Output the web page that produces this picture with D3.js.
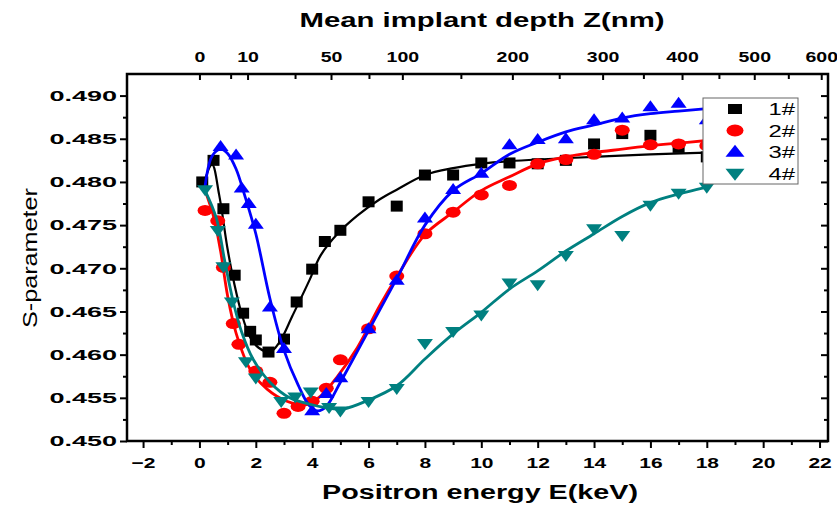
<!DOCTYPE html>
<html>
<head>
<meta charset="utf-8">
<script src="https://cdn.jsdelivr.net/npm/d3@7"></script>
<style>
  body { margin: 0; background: #fff; }
  svg { display: block; font-family: "Liberation Sans", Arial, sans-serif; }
</style>
</head>
<body>
<svg id="chart" width="837" height="505"></svg>
<script>
// tick values
const energyTicks = [-2, 0, 2, 4, 6, 8, 10, 12, 14, 16, 18, 20, 22];
const energyMinor = [-1, 1, 3, 5, 7, 9, 11, 13, 15, 17, 19, 21];
const sTicks = [0.450, 0.455, 0.460, 0.465, 0.470, 0.475, 0.480, 0.485, 0.490];
const sMinor = [0.4525, 0.4575, 0.4625, 0.4675, 0.4725, 0.4775, 0.4825, 0.4875];
const depthTicks = [0, 10, 50, 100, 200, 300, 400, 500, 600];
const depthMinor = [5, 30, 75, 150, 250, 350, 450, 550];

// measured points [E keV, S]
const pts1 = [[0.1,0.4800],[0.5,0.4825],[0.85,0.4769],[1.25,0.4692],[1.55,0.4648],[1.8,0.4627],
  [2.0,0.4617],[2.45,0.4603],[3.0,0.4618],[3.45,0.4661],[4.0,0.4699],[4.45,0.4731],[5.0,0.4744],
  [6,0.4777],[7,0.4772],[8,0.4808],[9,0.4808],[10,0.4822],[11,0.4822],[12,0.4821],[13,0.4825],
  [14,0.4844],[15,0.4856],[16,0.4854],[17,0.4840],[18,0.4829]];
const pts2 = [[0.2,0.4767],[0.65,0.4755],[0.85,0.4701],[1.2,0.4636],[1.4,0.4612],[2.0,0.4581],
  [2.5,0.4568],[3.0,0.4532],[3.5,0.4540],[4.0,0.4546],[4.5,0.4561],[5.0,0.4594],[6,0.4630],
  [7,0.4691],[8,0.4740],[9,0.4765],[10,0.4785],[11,0.4796],[12,0.4821],[13,0.4826],[14,0.4832],
  [15,0.4860],[16,0.4843],[17,0.4844],[18,0.4842]];
const pts3 = [[0.75,0.4841],[1.3,0.4831],[1.5,0.4793],[1.75,0.4775],[2.0,0.4751],[2.5,0.4655],
  [3.0,0.4607],[4.0,0.4535],[4.5,0.4555],[5.0,0.4573],[6,0.4630],[7,0.4686],[8,0.4758],
  [9,0.4791],[10,0.4810],[11,0.4843],[12,0.4849],[13,0.4850],[14,0.4872],[15,0.4874],
  [16,0.4887],[17,0.4891],[18,0.4872]];
const pts4 = [[0.2,0.4791],[0.65,0.4744],[0.85,0.4702],[1.15,0.4661],[1.65,0.4592],[2.0,0.4573],
  [2.9,0.4546],[3.4,0.4551],[3.95,0.4557],[4.6,0.4539],[5.0,0.4535],[6,0.4546],[7,0.4561],
  [8,0.4613],[9,0.4627],[10,0.4646],[11,0.4683],[12,0.4681],[13,0.4715],[14,0.4746],
  [15,0.4738],[16,0.4773],[17,0.4787],[18,0.4794]];

// fitted curves
const fit1 = [[0.15,0.4798],[0.45,0.4820],[0.7,0.4785],[1.0,0.4722],[1.25,0.4680],[1.5,0.4647],
  [1.8,0.4620],[2.1,0.4608],[2.5,0.4603],[2.85,0.4615],[3.3,0.4645],[3.9,0.4686],[4.3,0.4715],
  [4.9,0.4740],[5.6,0.4761],[6.4,0.4780],[7,0.4791],[8,0.4808],[9,0.4816],[10,0.4821],
  [11,0.4824],[12,0.4826],[14,0.4829],[16,0.4832],[18,0.4834]];
const fit2 = [[0.2,0.4790],[0.5,0.4760],[0.75,0.4720],[1.0,0.4668],[1.3,0.4625],[1.8,0.4583],
  [2.4,0.4560],[3.1,0.4546],[3.8,0.4542],[4.3,0.4552],[4.9,0.4575],[5.6,0.4608],[6.4,0.4657],
  [7,0.4690],[8,0.4739],[9,0.4765],[10,0.4790],[11,0.4806],[12,0.4821],[13,0.4829],[14,0.4834],
  [15,0.4838],[16,0.4842],[17,0.4845],[18,0.4848]];
const fit3 = [[0.2,0.4795],[0.45,0.4830],[0.75,0.4838],[1.0,0.4833],[1.3,0.4815],[1.6,0.4785],
  [2.0,0.4740],[2.5,0.4665],[3.0,0.4605],[3.5,0.4565],[3.9,0.4541],[4.2,0.4535],[4.5,0.4540],
  [5,0.4568],[6,0.4628],[7,0.4688],[8,0.4750],[9,0.4790],[10,0.4810],[11,0.4832],[12,0.4846],
  [13,0.4858],[14,0.4866],[15,0.4874],[16,0.4879],[17,0.4882],[18,0.4885]];
const fit4 = [[0.2,0.4790],[0.6,0.4758],[0.9,0.4708],[1.2,0.4661],[1.5,0.4626],[1.9,0.4595],
  [2.5,0.4568],[3.2,0.4550],[4.0,0.4542],[4.6,0.4538],[5.1,0.4537],[5.9,0.4546],[7,0.4564],
  [8,0.4595],[9,0.4624],[10,0.4649],[11,0.4676],[12,0.4697],[13,0.4720],[14,0.4740],
  [15,0.4760],[16,0.4776],[17,0.4786],[18,0.4794]];

const names = ["1#", "2#", "3#", "4#"];
const colors = ["#000000", "#ff0000", "#0000ff", "#008080"];
const shapes = ["square", "circle", "up", "down"];

const svg = d3.select("#chart");
const L = 127, R = 828, T = 74, B = 441;

var x = d3.scaleLinear().domain([-2.57, 22.3]).range([L, R]);
var y = d3.scaleLinear().domain([0.450, 0.4925]).range([B, T]);
// depth Z = 4.25 * E^1.6  ->  E proportional to Z^0.625
var z = d3.scalePow().exponent(0.625).domain([0, 4.25 * Math.pow(22.3, 1.6)]).range([x(0), R]);

function stretch(sel, k) {
  sel.each(function() {
    const w = this.getComputedTextLength();
    this.setAttribute("textLength", w * k);
    this.setAttribute("lengthAdjust", "spacingAndGlyphs");
  });
}

function styleAxis(g) {
  g.select(".domain").remove();
  g.selectAll("line").attr("stroke", "#000").attr("stroke-width", 2);
  g.selectAll("text").attr("fill", "#000").attr("font-weight", "bold").attr("font-size", 15)
    .attr("font-family", null);
}

// bottom
svg.append("g").attr("transform", `translate(0,${B})`)
  .call(d3.axisBottom(x).tickValues(energyTicks).tickSize(7).tickPadding(9).tickFormat(d3.format("d")))
  .call(styleAxis).call(g => stretch(g.selectAll("text"), 1.4));
svg.append("g").attr("transform", `translate(0,${B})`)
  .call(d3.axisBottom(x).tickValues(energyMinor).tickSize(4).tickFormat(""))
  .call(styleAxis);

// left
svg.append("g").attr("transform", `translate(${L},0)`)
  .call(d3.axisLeft(y).tickValues(sTicks).tickSize(7).tickPadding(3).tickFormat(d3.format(".3f")))
  .call(styleAxis).call(g => stretch(g.selectAll("text"), 1.8));
svg.append("g").attr("transform", `translate(${L},0)`)
  .call(d3.axisLeft(y).tickValues(sMinor).tickSize(4).tickFormat(""))
  .call(styleAxis);

// right (inward)
svg.append("g").attr("transform", `translate(${R},0)`)
  .call(d3.axisRight(y).tickValues(sTicks).tickSize(-7).tickFormat(""))
  .call(styleAxis);
svg.append("g").attr("transform", `translate(${R},0)`)
  .call(d3.axisRight(y).tickValues(sMinor).tickSize(-4).tickFormat(""))
  .call(styleAxis);

// top depth axis (inward ticks)
svg.append("g").attr("transform", `translate(0,${T})`)
  .call(d3.axisTop(z).tickValues(depthTicks).tickSize(-6).tickPadding(12).tickFormat(d3.format("d")))
  .call(styleAxis).call(g => stretch(g.selectAll("text"), 1.3));
svg.append("g").attr("transform", `translate(0,${T})`)
  .call(d3.axisTop(z).tickValues(depthMinor).tickSize(-5).tickFormat(""))
  .call(styleAxis);

// curves and symbols
const line = d3.line().x(d => x(d[0])).y(d => y(d[1])).curve(d3.curveCatmullRom.alpha(0.5));
const fits = [fit1, fit2, fit3, fit4];
const pts = [pts1, pts2, pts3, pts4];

function symbolPath(shape, w, h) {
  if (shape === "up") return `M0,${-h * 0.6}L${w / 2},${h * 0.4}L${-w / 2},${h * 0.4}Z`;
  if (shape === "down") return `M0,${h * 0.6}L${w / 2},${-h * 0.4}L${-w / 2},${-h * 0.4}Z`;
  return `M${-w / 2},${-h / 2}h${w}v${h}h${-w}Z`;
}

function drawSymbols(g, data, i, big) {
  const shape = shapes[i];
  if (shape === "circle") {
    g.selectAll("ellipse").data(data).join("ellipse")
      .attr("cx", d => d[0]).attr("cy", d => d[1])
      .attr("rx", big ? 8.5 : 7.5).attr("ry", big ? 6 : 5.5)
      .attr("fill", colors[i]);
  } else {
    const w = shape === "square" ? (big ? 14 : 12) : (big ? 19 : 16);
    const h = shape === "square" ? (big ? 10 : 11) : (big ? 12 : 11);
    g.selectAll("path").data(data).join("path")
      .attr("transform", d => `translate(${d[0]},${d[1]})`)
      .attr("d", symbolPath(shape, w, h))
      .attr("fill", colors[i]);
  }
}

fits.forEach((f, i) => {
  svg.append("path").datum(f)
    .attr("d", line)
    .attr("fill", "none")
    .attr("stroke", colors[i])
    .attr("stroke-width", i === 0 ? 2.2 : 2.8);
  const g = svg.append("g");
  drawSymbols(g, pts[i].map(d => [x(d[0]), y(d[1])]), i, false);
});

// frame
svg.append("rect").attr("x", L).attr("y", T).attr("width", R - L).attr("height", B - T)
  .attr("fill", "none").attr("stroke", "#000").attr("stroke-width", 2.5);

// legend
const leg = svg.append("g");
leg.append("rect").attr("x", 703).attr("y", 98).attr("width", 95).attr("height", 86)
  .attr("fill", "#fff").attr("stroke", "#666").attr("stroke-width", 1);
names.forEach((n, i) => {
  const cy = 109 + i * 21.5;
  const g = leg.append("g");
  drawSymbols(g, [[735, cy]], i, true);
  leg.append("text").attr("x", 795).attr("y", cy + 6).attr("text-anchor", "end")
    .attr("font-size", 17).attr("fill", "#000").text(n)
    .call(s => stretch(s, 1.4));
});

// titles
svg.append("text").attr("x", 482).attr("y", 27).attr("text-anchor", "middle")
  .attr("font-size", 20).attr("font-weight", "bold").text("Mean implant depth Z(nm)")
  .attr("textLength", 365).attr("lengthAdjust", "spacingAndGlyphs");
svg.append("text").attr("x", 480).attr("y", 499).attr("text-anchor", "middle")
  .attr("font-size", 20).attr("font-weight", "bold").text("Positron energy E(keV)")
  .attr("textLength", 316).attr("lengthAdjust", "spacingAndGlyphs");
svg.append("text").attr("transform", "translate(37,258) rotate(-90)").attr("text-anchor", "middle")
  .attr("font-size", 20).text("S-parameter")
  .attr("textLength", 140).attr("lengthAdjust", "spacingAndGlyphs");
</script>
</body>
</html>
